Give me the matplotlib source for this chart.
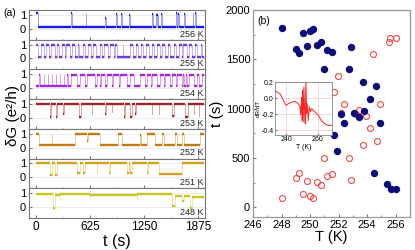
import numpy as np
import matplotlib
matplotlib.use('Agg')
import matplotlib.pyplot as plt
from matplotlib.ticker import MultipleLocator

plt.rcParams['font.family'] = ['Liberation Sans', 'DejaVu Sans']

# ── Panel (a): telegraph traces, segment start times (s) and levels (e²/h) ──
T_END = 1940

t_256 = [0, 20, 410, 421, 572, 580, 800, 808, 924, 932, 985, 993, 1078, 1086, 1336, 1346,
         1386, 1396, 1401, 1410, 1440, 1455, 1614, 1624, 1638, 1648, 1711, 1721, 1807, 1817, 1830, 1844]
g_256 = [1.1, 0.15, 1.1, 0.15, 1.05, 0.15, 0.8, 0.15, 1.05, 0.15, 1.05, 0.15, 1.0, 0.15, 1.05, 0.15,
         1.0, 0.2, 1.0, 0.15, 1.05, 0.15, 1.1, 0.15, 1.05, 0.15, 1.05, 0.15, 1.1, 0.15, 1.1, 0.15]

t_255 = [0, 25, 60, 95, 112, 150, 178, 215, 240, 262, 300, 335, 352, 390, 420, 445, 480, 502, 540, 570,
         600, 632, 660, 690, 740, 762, 790, 830, 852, 895, 910, 935, 1000, 1008, 1090, 1120, 1150, 1172,
         1210, 1240, 1275, 1300, 1340, 1365, 1400, 1430, 1452, 1490, 1520, 1545, 1590, 1612, 1650, 1680,
         1702, 1740, 1770, 1800, 1830, 1862, 1900, 1920]
g_255 = [1.0, 0.1, 1.0, 0.1, 1.0, 0.1, 1.0, 0.1, 1.0, 0.1, 1.0, 0.1, 1.0, 0.1, 1.0, 0.1, 1.0, 0.1, 1.0, 0.1,
         1.0, 0.1, 1.0, 0.1, 1.0, 0.1, 1.0, 0.1, 1.0, 0.1, 1.0, 0.1, 1.0, 0.1, 1.0, 0.1, 1.0, 0.1,
         1.0, 0.1, 1.0, 0.1, 1.0, 0.1, 1.0, 0.1, 1.0, 0.1, 1.0, 0.1, 1.0, 0.1, 1.0, 0.1,
         1.0, 0.1, 1.0, 0.1, 1.0, 0.1, 1.0, 0.1]

t_254 = [0, 40, 50, 88, 98, 134, 144, 180, 190, 226, 236, 272, 282, 318, 328, 360, 370, 400, 470, 508,
         567, 594, 683, 702, 740, 748, 798, 825, 880, 888, 953, 972, 1049, 1088, 1126, 1203, 1261, 1281,
         1330, 1338, 1396, 1435, 1473, 1493, 1550, 1570, 1620, 1628, 1685, 1700, 1708, 1730, 1738, 1763,
         1821, 1859, 1878, 1917]
g_254 = [0.15, 0.95, 0.15, 0.95, 0.15, 0.95, 0.15, 0.95, 0.15, 0.95, 0.15, 0.95, 0.15, 0.95, 0.15, 0.95, 0.15, 0.95, 0.15, 0.95,
         0.15, 0.95, 0.15, 0.95, 0.15, 0.95, 0.15, 0.95, 0.15, 0.95, 0.15, 0.95, 0.15, 0.95, 0.15, 0.95, 0.15, 0.95,
         0.15, 0.95, 0.15, 0.95, 0.15, 0.95, 0.15, 0.95, 0.15, 0.95, 0.15, 0.95, 0.15, 0.95, 0.15, 0.95,
         0.15, 0.95, 0.15, 0.95]

t_253 = [0, 162, 172, 231, 239, 316, 322, 501, 517, 644, 650, 798, 804, 875, 881, 1010, 1030, 1080, 1107,
         1145, 1151, 1338, 1344, 1415, 1421, 1570, 1589, 1724, 1751, 1820, 1826, 1878, 1884]
g_253 = [1.0, 0.05, 1.0, 0.05, 1.0, 0.3, 1.0, 0.05, 1.0, 0.3, 1.0, 0.3, 1.0, 0.4, 1.0, 0.05, 1.0, 0.05, 1.0,
         0.3, 1.0, 0.3, 1.0, 0.3, 1.0, 0.1, 1.0, 0.05, 1.0, 0.3, 1.0, 0.1, 1.0]

t_252 = [0, 39, 181, 186, 451, 588, 596, 740, 952, 991, 1203, 1209, 1281, 1377, 1454, 1474, 1608, 1628,
         1686, 1705, 1898]
g_252 = [1.0, 0.15, 0.9, 0.15, 1.0, 0.5, 1.0, 0.15, 1.0, 0.15, 0.9, 0.15, 1.0, 0.15, 1.0, 0.15, 1.0, 0.15,
         1.0, 0.15, 1.0]

t_251 = [0, 162, 181, 220, 239, 470, 509, 548, 567, 702, 710, 848, 856, 1049, 1068, 1088, 1107, 1281, 1290,
         1420, 1680]
g_251 = [1.05, 0.15, 1.05, 0.15, 1.05, 0.3, 1.05, 0.3, 1.05, 0.3, 1.05, 0.3, 1.05, 0.3, 1.05, 0.3, 1.05, 0.3, 1.05,
         0.25, 1.0]

t_248 = [0, 200, 215, 275, 282, 620, 626, 1160, 1166, 1570, 1608, 1686, 1705, 1774, 1801]
g_248 = [0.95, -0.05, 0.85, 0.5, 0.92, 0.6, 0.9, 0.55, 0.92, 0.1, 0.8, 0.4, 0.78, -0.05, 0.75]

temps_a = ['256 K', '255 K', '254 K', '253 K', '252 K', '251 K', '248 K']

# ── Panel (b): switching times vs temperature ───────────────────────────────
T_fill = [248.0, 249.0, 249.2, 249.5, 249.75, 250.0, 250.2, 250.5, 250.75, 251.0, 251.2, 251.5, 251.7,
          251.9, 252.2, 252.4, 252.7, 252.9, 253.1, 253.4, 253.7, 253.8, 254.2, 254.5, 254.65, 254.9,
          255.4, 255.7, 256.0]
t_fill = [1820, 1600, 1560, 1770, 1630, 1790, 1810, 1640, 1680, 1400, 1590, 1570, 730,
          570, 940, 850, 1400, 1620, 960, 910, 1270, 980, 1100, 350, 1230, 850,
          230, 185, 185]
T_open = [248.0, 249.0, 249.2, 249.5, 249.75, 250.0, 250.2, 250.5, 250.75, 251.0, 251.2, 251.5, 251.7,
          251.95, 252.2, 252.4, 252.7, 252.9, 253.2, 253.4, 253.7, 253.9, 254.2, 254.4, 254.7, 254.9,
          255.5, 255.6, 256.0]
t_open = [90, 300, 350, 130, 270, 110, 95, 260, 220, 500, 315, 340, 1170,
          1330, 960, 1050, 500, 280, 940, 990, 630, 920, 800, 1550, 670, 1050,
          1680, 1720, 1720]

# inset: dR/dT vs T
T_ins = [233.1, 236.3, 238.3, 240.0, 241.5, 243.6, 245.6, 247.7, 248.8, 249.2, 249.8, 250.2, 250.4,
         250.8, 251.25, 251.7, 252.1, 252.5, 252.9, 253.3, 254.0, 254.6, 255.4, 256.0, 258.1, 260.2,
         262.3, 264.4, 266.5, 268.5]
dRdT = [0.09, 0.05, -0.03, -0.09, -0.07, -0.05, -0.04, -0.07, -0.11, -0.21, 0.01, -0.28, 0.10,
        -0.30, 0.14, -0.15, -0.32, 0.22, -0.19, -0.07, -0.28, -0.11, -0.17, -0.13, -0.17, -0.21,
        -0.28, -0.32, -0.34, -0.34]

# ── Colors ──────────────────────────────────────────────────────────────────
DARK_C = ['#1818e8', '#6a3ae0', '#a424e4', '#a02424', '#c27a12', '#d2a21c', '#c6c61e']
LIGHT_C = ['#a0a0ff', '#c4b0f4', '#dc9cf4', '#e0a4a4', '#eccc94', '#f2de98', '#eaeaa4']
FRAME = '#777777'
NAVY = '#0c0c7a'
RED = '#f24848'

W, H = 415, 250
fig = plt.figure(figsize=(W / 100, H / 100), dpi=100)

# ── Panel (a) ────────────────────────────────────────────────────────────────
traces = [(t_256, g_256), (t_255, g_255), (t_254, g_254), (t_253, g_253),
          (t_252, g_252), (t_251, g_251), (t_248, g_248)]
left, right, top, bottom = 29, 205, 10, 218
strip_h = (bottom - top) / len(traces)
for i, ((tt, gg), lab) in enumerate(zip(traces, temps_a)):
    y0 = top + i * strip_h
    ax = fig.add_axes([left / W, 1 - (y0 + strip_h) / H, (right - left) / W, strip_h / H])
    ends = tt[1:] + [T_END]
    ax.step(tt + [T_END], gg + [gg[-1]], where='post', color=LIGHT_C[i], lw=0.7, zorder=2)
    ax.hlines(gg, tt, ends, color=DARK_C[i], lw=1.7, zorder=3)
    ax.set_xlim(-80, 1950)
    ax.set_ylim(-0.8, 1.35)
    ax.set_yticks([0, 1])
    ax.axhline(0, color='#e4e4e4', lw=0.5, zorder=1)
    ax.axhline(1, color='#e4e4e4', lw=0.5, zorder=1)
    ax.set_xticks([0, 625, 1250, 1875])
    ax.xaxis.set_minor_locator(MultipleLocator(312.5))
    ax.tick_params(direction='in', which='both', labelsize=8, length=2, pad=2,
                   color=FRAME, top=False)
    ax.tick_params(which='minor', length=1)
    for s in ax.spines.values():
        s.set_color(FRAME)
        s.set_linewidth(0.8)
    if i < len(traces) - 1:
        ax.set_xticklabels([])
    else:
        ax.tick_params(axis='x', labelsize=8.5)
        ax.set_xlabel('t (s)', fontsize=11.5, labelpad=1)
    ax.text(0.99, 0.04, lab, transform=ax.transAxes, ha='right', va='bottom',
            fontsize=6.5, color='#222222', zorder=5)

fig.text(0.032, 0.54, 'δG (e²/h)', rotation=90, ha='center', va='center', fontsize=11)
fig.text(0.008, 0.935, '(a)', fontsize=7.5)

# ── Panel (b) ────────────────────────────────────────────────────────────────
axb = fig.add_axes([253 / W, 1 - 217 / H, 157 / W, 207 / H])
axb.plot(T_open, t_open, 'o', mfc='none', mec=RED, mew=0.8, ms=4.3, zorder=3)
axb.plot(T_fill, t_fill, 'o', color=NAVY, ms=4.3, zorder=3)
axb.set_xlim(246, 257)
axb.set_ylim(-100, 2000)
axb.set_xticks(range(246, 257, 2))
axb.set_yticks([0, 500, 1000, 1500, 2000])
axb.xaxis.set_minor_locator(MultipleLocator(1))
axb.yaxis.set_minor_locator(MultipleLocator(250))
axb.tick_params(direction='in', which='both', labelsize=8, length=2.5, pad=2, color=FRAME)
axb.tick_params(which='minor', length=1.5)
for s in axb.spines.values():
    s.set_color('#999999')
    s.set_linewidth(0.9)
axb.set_xlabel('T (K)', fontsize=10.5, labelpad=0)
axb.set_ylabel('t (s)', fontsize=11, labelpad=1)
axb.text(0.03, 0.97, '(b)', transform=axb.transAxes, ha='left', va='top', fontsize=7.5)

# inset
axi = fig.add_axes([275 / W, 1 - 135 / H, 57 / W, 53 / H])
axi.plot(T_ins, dRdT, color='#ff2222', lw=0.7, zorder=3)
axi.set_xlim(233, 269)
axi.set_ylim(-0.46, 0.2)
axi.set_xticks([240, 260])
axi.set_yticks([0.2, 0.0, -0.2, -0.4])
axi.set_yticklabels(['0.2', '0.0', '-0.2', '-0.4'])
axi.grid(True, color='#f6c4cc', lw=0.5)
axi.tick_params(direction='in', labelsize=5, length=1.5, pad=1, color=FRAME)
for s in axi.spines.values():
    s.set_color('#888888')
    s.set_linewidth(0.6)
axi.set_xlabel('T (K)', fontsize=5, labelpad=0.5)
axi.set_ylabel('dR/dT', fontsize=4.5, labelpad=0.5)

fig.savefig('out.png', dpi=100)
